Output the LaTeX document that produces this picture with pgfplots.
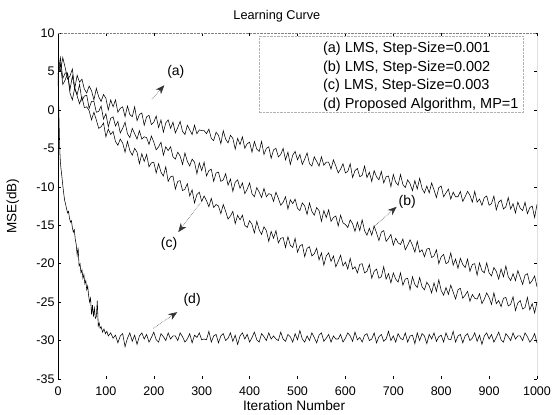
\documentclass[border=0pt]{standalone}
\usepackage{fontspec}
\setmainfont{Liberation Sans}
\usepackage{pgfplots}
\pgfplotsset{compat=1.18}
\usepackage{pgfplotstable}
\usetikzlibrary{arrows.meta}

% LMS learning curves (MSE in dB), sampled every 5 iterations
\pgfplotstableread{
n a b c
0 5.5 4.6 4.6
5 5.0 6.8 6.0
10 6.8 4.1 3.3
15 5.5 4.8 3.9
20 4.0 4.8 4.7
25 4.4 2.6 2.2
30 5.3 4.4 1.3
35 2.8 2.7 2.9
40 4.5 2.0 1.8
45 3.6 3.3 0.8
50 4.0 1.2 1.7
55 2.7 1.8 0.3
60 2.2 1.9 0.4
65 3.1 0.2 -0.1
70 2.5 1.1 -1.3
75 1.3 1.1 -0.3
80 2.8 -0.3 -1.3
85 1.7 -0.2 -2.4
90 1.1 0.5 -2.2
95 2.0 -1.2 -1.7
100 1.5 -0.5 -3.5
105 0.0 -2.2 -2.5
110 1.3 -1.1 -3.2
115 0.4 -0.9 -2.8
120 1.3 -2.1 -4.1
125 -0.3 -1.5 -4.6
130 0.2 -3.0 -3.8
135 0.4 -2.4 -4.3
140 -0.9 -1.6 -5.5
145 0.5 -3.1 -4.1
150 -0.6 -3.6 -5.3
155 -0.9 -2.4 -5.9
160 0.4 -3.1 -5.0
165 -1.4 -3.8 -5.5
170 -0.6 -2.7 -7.0
175 -0.4 -3.8 -5.7
180 -2.0 -3.5 -6.7
185 -0.9 -3.6 -5.8
190 -0.7 -4.5 -7.4
195 -1.9 -3.4 -6.9
200 -1.6 -4.2 -6.8
205 -0.8 -5.2 -8.2
210 -2.3 -4.8 -7.0
215 -1.3 -4.2 -8.1
220 -2.9 -5.9 -8.6
225 -1.7 -4.8 -7.4
230 -1.3 -5.3 -9.3
235 -2.4 -4.8 -8.7
240 -1.6 -6.1 -8.6
245 -3.0 -6.4 -10.3
250 -2.3 -5.5 -9.3
255 -1.5 -6.0 -9.2
260 -2.8 -7.1 -10.5
265 -3.2 -5.6 -10.3
270 -2.0 -6.7 -9.6
275 -2.6 -7.3 -11.2
280 -3.2 -6.4 -10.4
285 -2.0 -6.8 -12.1
290 -3.1 -8.3 -11.0
295 -2.6 -6.9 -10.7
300 -2.7 -7.9 -11.9
305 -2.7 -6.8 -11.2
310 -3.1 -8.6 -11.8
315 -2.5 -7.9 -12.6
320 -3.7 -7.7 -11.5
325 -4.0 -9.3 -12.7
330 -2.9 -8.2 -12.3
335 -3.3 -8.1 -12.5
340 -4.4 -9.3 -13.5
345 -2.7 -9.1 -12.3
350 -3.8 -8.3 -13.2
355 -4.3 -9.8 -14.2
360 -3.3 -9.0 -13.8
365 -3.7 -10.6 -13.2
370 -5.1 -9.4 -14.8
375 -3.7 -9.1 -13.7
380 -4.5 -10.2 -14.3
385 -3.5 -9.5 -13.7
390 -5.0 -10.9 -15.0
395 -4.4 -10.3 -15.3
400 -4.2 -9.5 -14.4
405 -5.5 -10.9 -14.9
410 -4.1 -11.3 -16.0
415 -5.1 -10.1 -14.5
420 -5.4 -10.7 -15.6
425 -4.1 -11.4 -16.2
430 -5.8 -10.2 -15.2
435 -5.0 -11.3 -15.7
440 -4.8 -10.9 -17.1
445 -6.3 -11.0 -15.8
450 -5.2 -11.9 -16.7
455 -5.0 -10.7 -15.7
460 -6.1 -11.5 -17.3
465 -5.8 -12.4 -16.7
470 -5.0 -12.0 -16.6
475 -6.5 -11.3 -17.9
480 -5.5 -12.9 -16.5
485 -7.1 -11.7 -17.6
490 -5.9 -12.2 -17.9
495 -5.4 -11.6 -16.7
500 -6.5 -12.8 -18.5
505 -5.8 -13.1 -17.7
510 -7.1 -12.1 -17.5
515 -6.4 -12.5 -19.1
520 -5.6 -13.6 -18.0
525 -7.0 -12.1 -17.8
530 -7.3 -13.2 -19.0
535 -6.1 -13.7 -18.7
540 -6.7 -12.7 -18.0
545 -7.3 -13.1 -19.5
550 -6.1 -14.5 -18.6
555 -7.2 -13.1 -20.2
560 -6.8 -14.0 -19.0
565 -6.8 -13.0 -18.6
570 -7.7 -14.5 -19.7
575 -6.5 -14.0 -19.0
580 -7.3 -13.8 -20.4
585 -8.2 -15.1 -19.7
590 -7.7 -13.7 -18.9
595 -7.0 -14.7 -20.3
600 -8.2 -14.9 -19.8
605 -8.0 -15.3 -20.7
610 -7.0 -14.3 -19.3
615 -8.8 -14.8 -20.7
620 -7.9 -15.8 -20.4
625 -7.6 -14.6 -21.2
630 -8.7 -15.7 -20.1
635 -8.5 -14.3 -20.0
640 -7.3 -15.7 -21.2
645 -8.8 -16.3 -21.0
650 -8.1 -15.4 -20.1
655 -9.3 -16.3 -21.9
660 -7.9 -15.1 -21.0
665 -8.7 -16.0 -20.7
670 -9.1 -17.0 -21.9
675 -8.0 -15.9 -21.7
680 -9.5 -15.7 -20.4
685 -8.7 -17.1 -22.0
690 -8.6 -16.7 -21.3
695 -10.0 -16.2 -22.5
700 -8.4 -17.6 -21.2
705 -9.4 -16.7 -22.0
710 -9.8 -17.3 -22.4
715 -8.4 -17.5 -21.2
720 -9.7 -16.8 -22.8
725 -10.1 -18.2 -22.0
730 -9.1 -17.6 -21.9
735 -9.6 -16.9 -23.4
740 -10.5 -17.6 -21.7
745 -9.2 -18.5 -22.7
750 -10.3 -17.1 -23.1
755 -8.9 -18.5 -21.8
760 -10.2 -18.2 -23.0
765 -10.8 -19.1 -23.4
770 -9.9 -18.1 -22.4
775 -10.8 -18.0 -22.9
780 -9.5 -19.2 -23.8
785 -10.4 -19.0 -22.5
790 -11.4 -18.2 -23.6
795 -10.1 -20.0 -22.1
800 -9.9 -19.1 -23.5
805 -11.3 -18.8 -24.1
810 -10.8 -20.0 -23.1
815 -10.3 -19.8 -24.0
820 -11.6 -18.6 -22.8
825 -10.7 -20.2 -23.7
830 -11.3 -19.4 -24.6
835 -11.3 -20.6 -23.4
840 -10.6 -19.3 -23.2
845 -11.9 -20.1 -24.5
850 -11.3 -20.5 -24.1
855 -10.6 -19.4 -23.6
860 -11.1 -21.0 -24.9
865 -12.0 -20.1 -24.0
870 -10.6 -20.0 -24.5
875 -12.0 -21.5 -24.6
880 -11.6 -19.9 -23.9
885 -12.4 -20.9 -25.2
890 -11.4 -21.2 -24.6
895 -11.2 -19.9 -23.8
900 -12.4 -21.2 -24.4
905 -12.2 -21.6 -25.3
910 -11.2 -20.5 -23.8
915 -13.0 -21.0 -25.2
920 -12.0 -22.0 -24.8
925 -11.7 -20.7 -25.6
930 -12.9 -21.7 -24.5
935 -12.6 -20.3 -24.4
940 -11.4 -21.7 -25.5
945 -12.9 -22.2 -25.3
950 -12.2 -21.3 -24.3
955 -13.4 -22.2 -26.1
960 -12.0 -20.9 -25.1
965 -12.8 -21.8 -24.8
970 -13.1 -22.7 -25.9
975 -12.0 -21.5 -25.7
980 -13.5 -21.3 -24.4
985 -12.7 -22.6 -26.0
990 -12.5 -22.2 -25.2
995 -14.0 -21.6 -26.4
1000 -12.3 -23.0 -25.0
}\lmscurves

% Proposed algorithm (MP=1): dense sampling over the fast initial drop
\pgfplotstableread{
n d
0 4.5
1 2.0
2 -1.0
3 -3.5
4 -5.6
5 -6.8
6 -7.5
8 -8.6
10 -9.8
12 -10.9
14 -11.8
16 -12.3
18 -12.9
20 -13.4
22 -13.2
24 -14.1
26 -14.6
28 -14.4
30 -15.3
32 -15.9
34 -15.6
36 -16.8
38 -17.5
40 -18.9
42 -17.9
44 -20.3
46 -20.0
48 -21.2
50 -20.8
52 -21.9
54 -21.4
56 -22.6
58 -22.2
60 -23.4
62 -22.9
64 -24.2
66 -25.0
68 -24.5
70 -26.6
72 -25.4
74 -26.9
76 -25.8
78 -27.1
80 -26.9
82 -24.8
84 -28.1
86 -27.7
88 -28.4
90 -28.2
93 -28.9
96 -28.5
99 -29.1
102 -28.8
105 -29.4
110 -29.0
115 -29.7
120 -29.3
125 -30.3
130 -29.4
135 -29.1
140 -30.8
145 -29.7
150 -29.0
155 -30.1
160 -29.3
165 -30.5
170 -29.4
175 -29.0
180 -29.8
185 -29.2
190 -30.2
195 -29.6
200 -28.9
205 -29.9
210 -30.2
215 -29.1
220 -29.5
225 -30.0
230 -29.0
235 -29.8
240 -29.4
245 -29.4
250 -30.0
255 -29.0
260 -29.5
265 -30.2
270 -29.8
275 -29.1
280 -30.3
285 -29.3
290 -29.6
295 -29.0
300 -29.9
305 -29.8
310 -29.9
315 -28.8
320 -30.2
325 -29.4
330 -29.2
335 -30.3
340 -29.4
345 -29.1
350 -30.0
355 -29.7
360 -29.0
365 -30.1
370 -29.3
375 -30.5
380 -29.4
385 -29.0
390 -29.8
395 -29.2
400 -30.2
405 -29.6
410 -28.9
415 -29.9
420 -30.2
425 -29.1
430 -29.5
435 -30.0
440 -29.0
445 -29.8
450 -29.4
455 -29.8
460 -30.0
465 -28.9
470 -29.8
475 -30.1
480 -29.2
485 -29.5
490 -30.2
495 -29.1
500 -29.9
505 -28.7
510 -29.8
515 -30.2
520 -29.4
525 -30.0
530 -29.0
535 -29.6
540 -30.3
545 -29.3
550 -29.0
555 -30.1
560 -29.7
565 -29.2
570 -30.2
575 -29.4
580 -29.8
585 -29.8
590 -29.2
595 -30.2
600 -29.7
605 -29.0
610 -29.4
615 -30.1
620 -28.9
625 -29.9
630 -29.6
635 -30.2
640 -29.3
645 -29.1
650 -30.0
655 -29.8
660 -29.0
665 -30.3
670 -29.5
675 -29.2
680 -30.1
685 -29.8
690 -28.8
695 -30.0
700 -29.4
705 -30.2
710 -29.1
715 -29.7
720 -29.9
725 -29.0
730 -30.2
735 -29.4
740 -29.3
745 -30.4
750 -29.0
755 -30.0
760 -29.1
765 -29.4
770 -30.4
775 -29.2
780 -29.8
785 -29.0
790 -30.1
795 -29.5
800 -29.3
805 -30.2
810 -29.0
815 -29.8
820 -29.9
825 -28.8
830 -30.2
835 -29.4
840 -29.2
845 -30.3
850 -29.4
855 -29.1
860 -30.0
865 -29.7
870 -29.0
875 -30.1
880 -29.3
885 -30.5
890 -29.4
895 -29.0
900 -29.8
905 -29.2
910 -30.2
915 -29.6
920 -28.9
925 -29.9
930 -30.2
935 -29.1
940 -29.5
945 -30.0
950 -29.0
955 -29.8
960 -29.4
965 -29.4
970 -30.0
975 -29.0
980 -29.5
985 -30.2
990 -29.8
995 -29.1
1000 -30.3
}\propcurve

\begin{document}
\begin{tikzpicture}
\useasboundingbox (0,0) rectangle (552pt,415pt);
\begin{axis}[
  at={(58pt,36pt)}, anchor=south west,
  width=479pt, height=346pt, scale only axis,
  xmin=0, xmax=1000, ymin=-35, ymax=10,
  xtick={0,100,...,1000},
  ytick={-35,-30,...,10},
  tick align=inside,
  major tick length=3pt,
  tick style={black, line width=0.4pt},
  axis line style={draw=none},
  /pgf/number format/assume math mode=true,
  /pgf/number format/1000 sep={},
  tick label style={font=\fontsize{12.5}{15}\selectfont},
  xticklabel style={yshift=-4pt},
  title={Learning Curve},
  title style={at={(0.457,1.03)}, anchor=center, yshift=0pt, font=\fontsize{12.7}{15}\selectfont},
  xlabel={Iteration Number},
  xlabel style={at={(0.493,-0.076)}, anchor=center, font=\fontsize{13.7}{16}\selectfont},
  ylabel={MSE(dB)},
  ylabel style={at={(-0.094,0.5)}, anchor=center, font=\fontsize{13.5}{16}\selectfont},
]
\addplot[black, line width=0.55pt] table[x=n, y=a] {\lmscurves};
\addplot[black, line width=0.55pt] table[x=n, y=b] {\lmscurves};
\addplot[black, line width=0.55pt] table[x=n, y=c] {\lmscurves};
\addplot[black, line width=0.55pt] table[x=n, y=d] {\propcurve};

% frame: solid sides, light dotted top and bottom
\draw[black, line width=0.9pt] (axis description cs:0,0) -- (axis description cs:0,1);
\draw[black, line width=0.9pt] (axis description cs:1,0) -- (axis description cs:1,1);
\draw[gray, densely dotted] (axis description cs:0,0) -- (axis description cs:1,0);
\draw[gray, densely dotted] (axis description cs:0,1) -- (axis description cs:1,1);

% legend box
\draw[gray!60, densely dotted] (axis description cs:0.42,0.99) rectangle (axis description cs:0.971,0.77);
\node[anchor=west, align=left, inner sep=0pt, font=\fontsize{14.5}{18.5}\selectfont]
  at (axis description cs:0.553,0.874)
  {(a) LMS, Step-Size=0.001\\(b) LMS, Step-Size=0.002\\(c) LMS, Step-Size=0.003\\(d) Proposed Algorithm, MP=1};

% curve annotations
\tikzset{annot/.style={densely dotted, gray!70!black, line width=0.6pt,
  -{Stealth[length=9pt, width=7pt, color=black!80]}}}
\draw[annot] (axis cs:196,1.4) -- (axis cs:222,3.2);
\node[font=\fontsize{14}{16}\selectfont] at (axis cs:246,5.0) {(a)};
\draw[annot] (axis cs:659,-15.2) -- (axis cs:707,-12.6);
\node[font=\fontsize{14}{16}\selectfont] at (axis cs:729,-12.0) {(b)};
\draw[annot] (axis cs:297,-12.1) -- (axis cs:251,-15.9);
\node[font=\fontsize{14}{16}\selectfont] at (axis cs:232,-17.4) {(c)};
\draw[annot] (axis cs:199,-28.4) -- (axis cs:249,-26.3);
\node[font=\fontsize{14}{16}\selectfont] at (axis cs:280,-24.7) {(d)};
\end{axis}
\end{tikzpicture}
\end{document}
